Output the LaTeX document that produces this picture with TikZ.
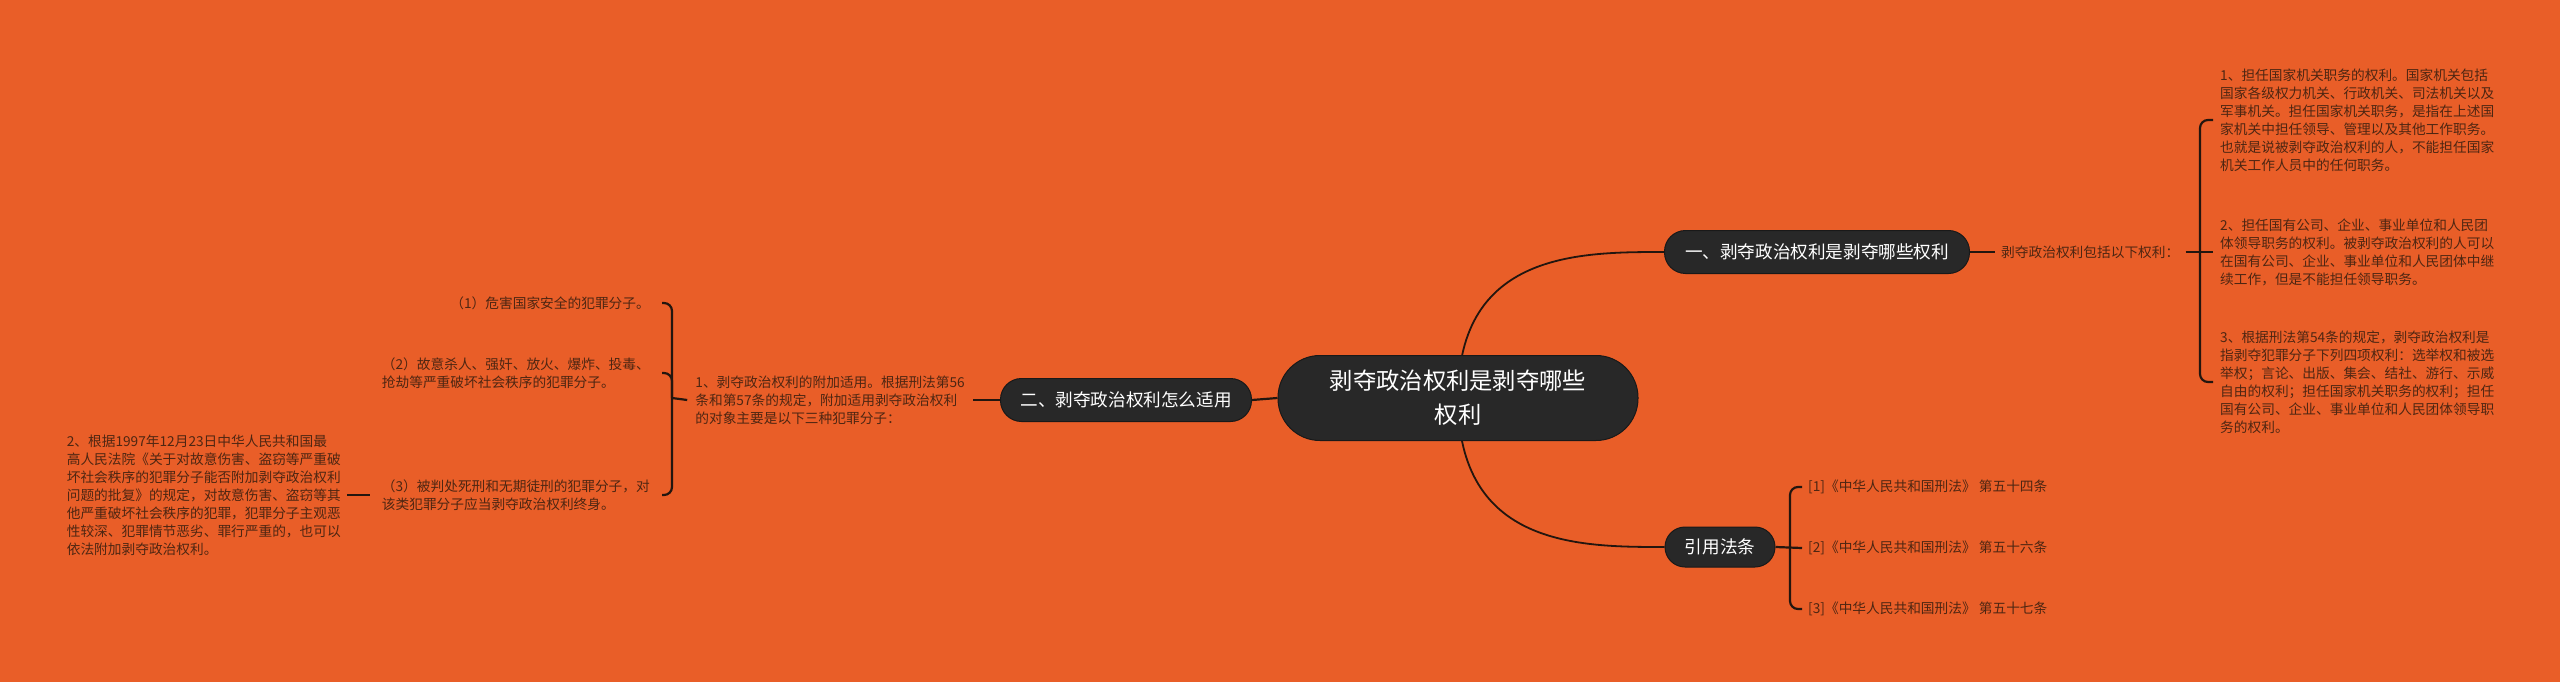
\documentclass[tikz,border=0pt]{standalone}
\usepackage{fontspec}
\usetikzlibrary{calc}
\newfontfamily\cjk{Noto Sans CJK SC}
\definecolor{bgc}{RGB}{233,94,40}
\definecolor{nodefill}{RGB}{40,40,40}
\definecolor{leaftext}{RGB}{78,38,18}
\definecolor{linec}{RGB}{35,22,15}
\pgfdeclarelayer{back}
\pgfsetlayers{back,main}
\begin{document}
\begin{tikzpicture}[x=1pt,y=-1pt,
  mainbox/.style={draw=black!90, line width=1pt, fill=nodefill, text=white,
    font=\cjk\fontsize{17.6pt}{22pt}\selectfont, minimum height=43pt, inner sep=0pt,
    rounded corners=21pt},
  rootbox/.style={draw=black!90, line width=1pt, fill=nodefill, text=white,
    font=\cjk\fontsize{23.3pt}{34pt}\selectfont, minimum width=360pt, minimum height=85pt,
    inner sep=0pt, rounded corners=42pt, align=center},
  leaf/.style={text=leaftext, font=\cjk\fontsize{13.7pt}{18pt}\selectfont, align=left,
    inner ysep=2pt},
  conn/.style={draw=linec, line width=2.2pt},
  curv/.style={draw=linec, line width=1.8pt}]

% main nodes
\node[rootbox] (root) at (1458,398) {剥夺政治权利是剥夺哪些\\权利};
\node[mainbox, minimum width=305pt] (n1) at (1817,252) {一、剥夺政治权利是剥夺哪些权利};
\node[mainbox, minimum width=251pt] (n2) at (1126,400) {二、剥夺政治权利怎么适用};
\node[mainbox, minimum width=110pt, minimum height=40pt, rounded corners=20pt] (n3) at (1720,547) {引用法条};

% right branch
\node[leaf, anchor=west, inner xsep=6pt] (lab) at (1995,252) {剥夺政治权利包括以下权利：};
\node[leaf, anchor=west, inner xsep=7pt] (r1) at (2213,120) {1、担任国家机关职务的权利。国家机关包括\\国家各级权力机关、行政机关、司法机关以及\\军事机关。担任国家机关职务，是指在上述国\\家机关中担任领导、管理以及其他工作职务。\\也就是说被剥夺政治权利的人，不能担任国家\\机关工作人员中的任何职务。};
\node[leaf, anchor=west, inner xsep=7pt] (r2) at (2213,252) {2、担任国有公司、企业、事业单位和人民团\\体领导职务的权利。被剥夺政治权利的人可以\\在国有公司、企业、事业单位和人民团体中继\\续工作，但是不能担任领导职务。};
\node[leaf, anchor=west, inner xsep=7pt] (r3) at (2213,382) {3、根据刑法第54条的规定，剥夺政治权利是\\指剥夺犯罪分子下列四项权利：选举权和被选\\举权；言论、出版、集会、结社、游行、示威\\自由的权利；担任国家机关职务的权利；担任\\国有公司、企业、事业单位和人民团体领导职\\务的权利。};

% references
\node[leaf, anchor=west, inner xsep=6pt] (c1) at (1802,487) {[1]《中华人民共和国刑法》 第五十四条};
\node[leaf, anchor=west, inner xsep=6pt] (c2) at (1802,548) {[2]《中华人民共和国刑法》 第五十六条};
\node[leaf, anchor=west, inner xsep=6pt] (c3) at (1802,609) {[3]《中华人民共和国刑法》 第五十七条};

% left branch
\node[leaf, anchor=east, inner xsep=8pt] (A) at (973,400) {1、剥夺政治权利的附加适用。根据刑法第56\\条和第57条的规定，附加适用剥夺政治权利\\的对象主要是以下三种犯罪分子：};
\node[leaf, anchor=east, inner xsep=12pt] (l1) at (662,303) {（1）危害国家安全的犯罪分子。};
\node[leaf, anchor=east, inner xsep=12pt] (l2) at (662,373) {（2）故意杀人、强奸、放火、爆炸、投毒、\\抢劫等严重破坏社会秩序的犯罪分子。};
\node[leaf, anchor=east, inner xsep=12pt] (l3) at (662,495) {（3）被判处死刑和无期徒刑的犯罪分子，对\\该类犯罪分子应当剥夺政治权利终身。};
\node[leaf, anchor=east, inner xsep=6pt] (B) at (347,495) {2、根据1997年12月23日中华人民共和国最\\高人民法院《关于对故意伤害、盗窃等严重破\\坏社会秩序的犯罪分子能否附加剥夺政治权利\\问题的批复》的规定，对故意伤害、盗窃等其\\他严重破坏社会秩序的犯罪，犯罪分子主观恶\\性较深、犯罪情节恶劣、罪行严重的，也可以\\依法附加剥夺政治权利。};

\coordinate (rv) at (2200,252);
\coordinate (lv) at (672,398);
\coordinate (cv) at (1790,547);

\begin{pgfonlayer}{back}
\fill[bgc] (0,0) rectangle (2560,682);
% curves from root
\draw[curv] (root.center) .. controls (root.center |- n1.west) and ($(n1.west)+(-85,0)$) .. (n1.west);
\draw[curv] (root.center) .. controls (root.center |- n3.west) and ($(n3.west)+(-85,0)$) .. (n3.west);
\draw[conn] (root.west) -- (n2.east);
% right
\draw[conn] (n1.east) -- (lab.west);
\draw[conn] (lab.east) -- (r2.west);
\draw[conn, rounded corners=8pt] (r1.west) -| (rv) |- (r3.west);
% refs
\draw[conn] (n3.east) -- (c2.west);
\draw[conn, rounded corners=8pt] (c1.west) -| (cv) |- (c3.west);
% left
\draw[conn] (n2.west) -- (A.east);
\draw[conn] (lv) -- (A.west);
\draw[conn, rounded corners=8pt] (l1.east) -| (lv) |- (l3.east);
\draw[conn, rounded corners=8pt] (l2.east) -| (lv);
\draw[conn] (l3.west) -- (B.east);
\end{pgfonlayer}
\useasboundingbox (0,0) rectangle (2560,682);
\end{tikzpicture}
\end{document}
